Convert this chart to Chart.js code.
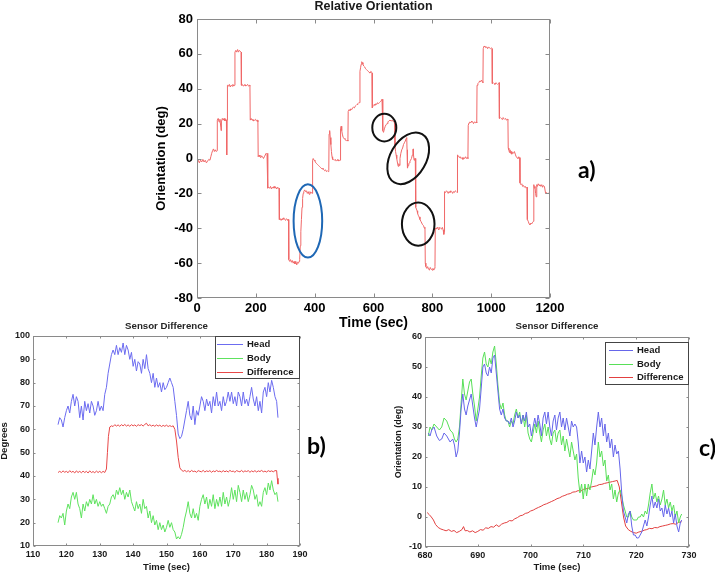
<!DOCTYPE html>
<html><head><meta charset="utf-8">
<script src="https://cdn.jsdelivr.net/npm/chart.js@4.4.1/dist/chart.umd.min.js"></script>
<style>
html,body{margin:0;padding:0;background:#fff;}
body{width:715px;height:572px;position:relative;overflow:hidden;}
canvas{position:absolute;}
.lab{position:absolute;font-family:Lato,"Open Sans",sans-serif;font-weight:700;font-size:23px;line-height:23px;color:#000;}
</style></head><body>
<canvas id="cb" width="320" height="254" style="left:0;top:318px;width:320px;height:254px"></canvas>
<canvas id="cc" width="321" height="254" style="left:394px;top:318px;width:321px;height:254px"></canvas>
<canvas id="ca" width="415" height="330" style="left:155px;top:0;width:415px;height:330px"></canvas>
<div class="lab" style="left:578px;top:158px">a)</div>
<div class="lab" style="left:307px;top:434px">b)</div>
<div class="lab" style="left:699px;top:436px">c)</div>
<script>
// ---------- a) Relative Orientation ----------
const a_time = [
 0,4,8,12,16,20,24,28,32,36,
 40,44,47,50,53,56,59,62,65,68,
 69,72,75,78,81,82,83,86,89,92,
 95,98,100,101,102,103,104,107,110,113,
 116,119,122,125,128,129,132,135,138,141,
 144,147,150,151,154,157,160,163,166,169,
 172,175,178,180,181,184,187,190,193,196,
 199,202,205,207,208,211,214,217,220,223,
 226,229,232,235,238,240,241,244,247,250,
 253,256,259,262,265,268,271,274,277,279,
 280,283,286,289,292,295,298,301,304,307,
 309,311,312,315,318,321,324,327,330,333,
 336,339,342,345,347,349,351,353,355,357,
 359,361,363,366,369,372,375,378,381,384,
 387,390,392,393,395,398,401,404,407,410,
 413,416,419,422,425,428,431,434,437,440,
 443,446,448,449,451,453,455,457,459,461,
 464,467,470,473,476,479,482,485,487,488,
 490,492,494,497,500,503,506,509,511,513,
 514,517,520,523,526,529,532,535,538,541,
 544,547,550,553,554,556,558,560,562,564,
 567,570,573,576,579,582,585,588,591,594,
 595,596,599,602,605,608,611,614,617,620,
 623,626,629,631,632,634,637,640,643,646,
 649,652,656,660,664,668,672,673,675,677,
 679,681,684,686,688,690,693,696,699,702,
 705,708,711,713,714,715,716,718,720,722,
 724,726,729,732,734,735,736,738,740,742,
 743,744,746,748,750,752,755,758,761,764,
 767,770,773,775,776,778,781,784,787,790,
 793,796,799,802,805,808,809,810,813,816,
 819,822,825,828,831,834,837,839,840,841,
 842,845,848,851,854,857,860,863,866,869,
 872,875,878,881,884,885,886,889,892,895,
 898,901,904,907,910,913,916,919,921,922,
 925,928,931,934,937,940,943,946,949,951,
 952,955,958,961,964,967,970,972,973,976,
 979,982,985,988,991,994,997,1000,1003,1004,
 1007,1010,1013,1016,1019,1022,1025,1027,1028,1031,
 1034,1037,1040,1043,1046,1049,1052,1055,1057,1058,
 1060,1062,1064,1066,1068,1070,1073,1076,1079,1082,
 1085,1088,1091,1094,1097,1098,1101,1104,1107,1110,
 1113,1116,1119,1122,1123,1126,1129,1132,1135,1138,
 1141,1144,1145,1147,1149,1151,1153,1155,1157,1160,
 1163,1166,1169,1172,1175,1178,1181,1183,1185,1188,
 1191,1194,1197,1200];
const a_deg = [
 -2,-1,-2.5,-1,-2,-0.5,-2,-1,-2.5,-1.5,
 -0.5,-1,1,3,4.5,5.5,4,5,4,4.5,
 22,23,21,22.5,18,16,21,23,22,23,
 21.5,22.5,22,2,22,22.5,42,41.5,42.5,41,
 42,41.5,42.5,41.5,42,61,62,61,62.5,61,
 62,61.5,61,42,42.5,41.5,42,42.5,41.5,42,
 42.5,41.5,42,41.5,22,23,22,22.5,21.5,22,
 22.5,21.5,22,21,1,2,1,0.5,1.5,1,
 0,1,2,3,2.5,3,-17,-16.5,-17,-16,
 -17.5,-16.5,-17,-16,-17,-16.5,-17.5,-16.5,-17,-17,
 -35,-34.5,-35.5,-34.5,-35,-34,-35,-35.5,-34.5,-35,
 -35.5,-35,-58,-59,-58,-59.5,-58.5,-60,-59,-60.5,
 -59,-61,-59.5,-60,-59,-58,-50,-42,-35,-28,
 -23,-20,-19,-18,-19,-18.5,-20,-19,-20.5,-19,
 -20,-19.5,-20,-1,0,-1,-1.5,-2.5,-3,-3.5,
 -4,-4.5,-5,-5.5,-6,-5.5,-6.5,-7,-6.5,-7.5,
 -7,-7.5,-7,14,16,12,8,4,1,-0.5,
 -0.5,-1,-0.5,-1.5,-1,-0.5,-1.5,-1,-1,17,
 18.5,16,14,12,11.5,11,10.5,10,10.5,10,
 27,28,27.5,28.5,28,29,29.5,29,30,30.5,
 31,31.5,32,32,50,52,54,55.5,55,54,
 53,52.5,51.5,51,50.5,50,49.5,49,50,49.5,
 49,29,30.5,31,30.5,31.5,31,32,31.5,32,
 32.5,33,34,33,16,15,17,18.5,19.5,20,
 21,21.5,22,21.5,22,21,20.5,7,4,2,
 0,-2,-4.5,-3,-4,0,3,5,6,8,
 9,10,11.5,12,5,-5,-5.5,-4,-3,-2.5,
 -1.5,-1,0,2,5,5.5,2,-1,0,0,
 -1,-28,-29,-30,-31.5,-32.5,-33.5,-35,-36,-37,
 -38,-38.5,-40,-39.5,-60,-62,-63,-62,-63.5,-64,
 -62.5,-63.5,-64,-63,-64,-63,-62,-40,-40.5,-39.5,
 -40,-41,-39.5,-40,-40.5,-39.5,-41,-43.5,-42,-40,
 -19,-19.5,-18.5,-19,-20,-19,-19.5,-18.5,-19,-20,
 -19,-19.5,-18.5,-19,-19.5,-19,2,1.5,0.5,1,
 0,0.5,-0.5,0.5,0,1,0,0.5,0,19,
 20.5,21,20.5,21.5,21,20,21,20.5,21,20.5,
 42,43,43.5,44.5,44,45,44,43.5,63,64.5,
 64,63.5,64,63,64,63.5,63,63.5,63,43,
 43.5,43,42.5,43.5,43,42.5,43,43.5,23,23.5,
 23,22.5,23.5,23,22.5,23,22,22.5,22,6,
 5,3.5,5,3,4,2.5,3.5,3,4,2.5,
 1,0.5,0,1,0.5,-14,-15,-14.5,-16,-15.5,
 -16.5,-16,-17,-16.5,-35,-36,-37.5,-38,-37,-37.5,
 -36.5,-36,-15,-17,-16,-20,-22,-15,-16,-14.5,
 -15.5,-15,-16,-15,-16.5,-15.5,-16,-16,-20,-19.5,
 -20,-20,-19.5,-20];
const a_xticks = [0, 1200, 200];
const a_yticks = [-80, 80, 20];
// annotation ellipses (centre time, centre deg, half-width sec, half-height deg, tilt deg)
const ring_t  = [377, 636.7, 718, 752];
const ring_v  = [-35.8, 17.7, 0.1, -37.6];
const ring_dt = [48.6, 40.8, 61, 55.4];
const ring_dv = [21, 7.9, 16, 12.4];
const ring_rot = [0, 0, 30, 0];
const ring_col = ['#1f68b5', '#111111', '#111111', '#111111'];

// ---------- b) Sensor Difference ----------
const b_time = [
 117.5,118,118.5,119,119.5,120,120.5,121,121.5,122,
 122.5,123,123.5,124,124.5,125,125.5,126,126.5,127,
 127.5,128,128.5,129,129.5,130,130.5,131,131.5,132,
 132.5,133,133.5,134,134.5,135,135.5,136,136.5,137,
 137.5,138,138.5,139,139.5,140,140.5,141,141.5,142,
 142.5,143,143.5,144,144.5,145,145.5,146,146.5,147,
 147.5,148,148.5,149,149.5,150,150.5,151,151.5,152,
 152.5,153,153.5,154,154.5,155,155.5,156,156.5,157,
 157.5,158,158.5,159,159.5,160,160.5,161,161.5,162,
 162.5,163,163.5,164,164.5,165,165.5,166,166.5,167,
 167.5,168,168.5,169,169.5,170,170.5,171,171.5,172,
 172.5,173,173.5,174,174.5,175,175.5,176,176.5,177,
 177.5,178,178.5,179,179.5,180,180.5,181,181.5,182,
 182.5,183,183.4];
const b_head = [
 62,65,64,61,65,68,70,67,72,75,
 70,74,72,65,70,64,72,68,71,67,
 72,70,66,68,72,68,70,68,75,78,
 84,88,92,94,92,96,92,95,93,97,
 92,96,94,90,93,87,90,85,89,88,
 84,90,86,92,86,84,80,84,78,82,
 78,80,76,80,77,78,80,82,80,78,
 72,66,58,56,57,60,64,68,72,66,
 64,70,62,68,66,70,74,72,68,73,
 70,72,67,74,70,76,70,72,68,74,
 70,72,76,72,76,71,74,70,76,74,
 70,76,71,73,70,74,78,73,70,74,
 68,72,67,76,78,74,80,76,81,78,
 74,72,65];
const b_body = [
 20,23,22,24,19,25,28,26,31,33,
 30,33,28,26,22,28,25,29,27,30,
 28,32,28,30,27,29,27,28,26,24,
 27,28,31,32,30,34,32,35,32,34,
 30,33,31,34,29,27,25,29,26,28,
 24,30,26,27,22,25,20,23,19,21,
 17,20,17,19,16,18,21,18,20,17,
 16,13,14,13,15,18,22,25,29,24,
 22,26,22,24,21,27,30,32,28,31,
 26,30,27,32,26,30,27,31,27,33,
 28,31,27,30,35,30,34,29,36,33,
 29,34,30,33,29,32,36,34,30,32,
 27,29,27,33,35,32,37,34,38,34,
 32,33,29];
const b_dtime = [
 117.5,118,118.5,119,119.5,120,120.5,121,121.5,122,
 122.5,123,123.5,124,124.5,125,125.5,126,126.5,127,
 127.5,128,128.5,129,129.5,130,130.5,131,131.5,132,
 132.3,132.6,133,133.5,134,134.5,135,135.5,136,136.5,
 137,137.5,138,138.5,139,139.5,140,140.5,141,141.5,
 142,142.5,143,143.5,144,144.5,145,145.5,146,146.5,
 147,147.5,148,148.5,149,149.5,150,150.5,151,151.5,
 152,152.5,153,153.5,154,154.5,155,155.5,156,156.5,
 157,157.5,158,158.5,159,159.5,160,160.5,161,161.5,
 162,162.5,163,163.5,164,164.5,165,165.5,166,166.5,
 167,167.5,168,168.5,169,169.5,170,170.5,171,171.5,
 172,172.5,173,173.5,174,174.5,175,175.5,176,176.5,
 177,177.5,178,178.5,179,179.5,180,180.5,181,181.5,
 182,182.5,183,183.2,183.4];
const b_diff = [
 41.5,42,41.5,42.2,41.6,42,41.4,42.3,41.6,42,
 41.3,42.2,41.5,42,41.4,42.1,41.5,42,41.3,42.2,
 41.5,41.9,41.4,42.1,41.5,42,41.4,42,41.5,43,
 50,57,61,61.5,61.2,62,61.4,61.9,61.3,62,
 61.5,62.1,61.4,61.9,61.3,62,61.5,61.9,61.3,62,
 61.6,62,61.4,62.1,62.6,61.5,62,61.4,61.8,61.3,
 61.9,61.4,61.8,61.2,61.7,61.3,61.8,61.2,61.6,61.2,
 61.5,60,55,48,43.5,42.5,42,42.4,41.8,42.3,
 41.7,42.4,41.9,42.1,41.6,42.3,42,41.8,42.4,41.7,
 42.2,41.9,42.3,41.6,42.2,41.8,42.4,41.9,42.1,41.7,
 42.3,41.8,42.2,41.7,42.4,41.9,42.1,41.6,42.3,42,
 41.8,42.4,41.7,42.2,41.9,42.3,41.6,42.2,41.8,42.3,
 41.7,42.2,41.9,42.4,41.8,42.1,41.7,42.3,41.9,42.2,
 41.8,42.3,42.3,39,36.5];
const b_xticks = [110, 190, 10];
const b_yticks = [10, 100, 10];

// ---------- c) Sensor Difference ----------
const c_time = [
 680.63,680.95,681.27,681.71,682.22,682.72,683.17,683.61,684.12,684.75,
 685.26,685.58,685.89,686.21,686.53,686.84,687.16,687.48,687.79,688.11,
 688.43,688.75,689.06,689.38,689.70,690.01,690.33,690.65,690.96,691.28,
 691.60,691.91,692.23,692.55,692.86,693.18,693.50,693.81,694.13,694.45,
 694.77,695.08,695.40,695.72,696.03,696.35,696.67,696.98,697.30,697.62,
 697.93,698.25,698.57,698.88,699.20,699.52,699.84,700.15,700.47,700.79,
 701.10,701.42,701.74,702.05,702.37,702.69,703.00,703.32,703.64,703.95,
 704.27,704.59,704.90,705.22,705.54,705.86,706.17,706.49,706.81,707.12,
 707.44,707.76,708.07,708.39,708.71,709.02,709.34,709.66,709.97,710.29,
 710.61,710.93,711.24,711.56,711.88,712.19,712.51,712.83,713.14,713.46,
 713.78,714.09,714.41,714.73,715.04,715.36,715.68,715.99,716.31,716.63,
 716.95,717.26,717.58,717.90,718.21,718.53,718.85,719.16,719.48,719.80,
 720.11,720.43,720.75,721.06,721.38,721.70,722.02,722.33,722.65,722.97,
 723.28,723.60,723.92,724.23,724.55,724.87,725.18,725.50,725.82,726.13,
 726.45,726.77,727.08,727.40,727.72,728.04,728.35,728.61];
const c_head = [
 28,27,29,30,27,25.5,26,28,27,25,
 26,24,20,22,28,36,41,36,34,37,
 39,41,37,33,30,33,36,43,50,51,
 48,47,50,48,53,54,48,42,36,34,
 36,33,32,32,31,33,30,32,35,33,
 34,31,34,32,35,30,31,27,30,33,
 30,34,31,27,33,35,31,35,30,27,
 32,34,29,33,35,30,33,29,33,30,
 27,32,30,31,30,25,18,22,18,20,
 15,19,16,22,28,24,30,35,30,33,
 27,31,25,28,23,26,20,24,21,22,
 16,8,2,0,-2,1,2,-3,-6,-6,
 -7,-7,-6,-5,-3,-1,-3,0,4,7,
 3,5,3,6,2,3,0,4,1,3,
 0,2,-2,1,-3,-5,-2,-1];
const c_body = [
 27,30,29,31,30,29,30,33,32,29,
 28,26,25,26,30,38,46,41,39,42,
 45,46,41,37,32,36,40,47,53,55,
 51,50,53,51,55,57,51,44,38,36,
 38,34,32,32,30,32,31,34,36,33,
 35,31,34,30,34,28,26,25,28,31,
 28,32,28,25,29,31,27,30,26,24,
 28,29,25,28,29,24,27,22,26,23,
 20,25,22,19,21,13,8,11,6,11,
 7,11,9,12,16,14,18,25,20,22,
 17,19,12,14,9,11,6,9,5,8,
 9,7,4,2,0,0,2,0,-1,-1,
 -1,0,0,1,0,2,1,4,8,11,
 6,8,5,7,4,6,9,4,6,3,
 5,2,4,0,2,-2,0,1];
const c_dtime = [
 680.4,680.8,681.2,681.6,682,682.5,683,683.5,684,684.5,
 685,685.5,686,686.5,687,687.3,687.6,688,688.5,689,
 689.5,690,690.5,691,691.5,692,692.5,693,693.5,694,
 694.5,695,695.5,696,696.5,697,697.5,698,698.5,699,
 699.5,700,700.5,701,701.5,702,702.5,703,703.5,704,
 704.5,705,705.5,706,706.5,707,707.5,708,708.5,709,
 709.5,710,710.5,711,711.5,712,712.5,713,713.5,714,
 714.5,715,715.5,716,716.4,716.8,717.2,717.6,718,718.5,
 719,719.5,720,720.5,721,721.5,722,722.5,723,723.5,
 724,724.5,725,725.5,726,726.5,727,727.5,728,728.6];
const c_diff = [
 1.5,0.8,0,-1,-2.5,-3.5,-4,-4.3,-4.6,-4.2,
 -4.8,-4.5,-5.2,-4.8,-4.2,-3.2,-4.6,-4.5,-5,-4.6,
 -5.2,-4.8,-4.2,-4.4,-3.6,-3.8,-3.2,-3.4,-2.6,-3.2,
 -2.4,-2,-1.8,-1.2,-1.3,-0.6,-0.2,0.4,0.6,1.2,
 1.4,2,2.3,2.8,3.2,3.6,4.1,4.4,4.8,5.2,
 5.6,6.1,6.4,6.9,7.2,7.6,7.8,8.3,8.4,8.8,
 8.6,9.2,9.4,9.6,10,10.2,10.4,10.8,10.9,11.2,
 11.4,11.6,11.8,12,12.2,10,5,0,-3,-4.2,
 -4.8,-5.2,-5.4,-5,-4.8,-4.4,-4.2,-3.8,-3.9,-3.5,
 -3.6,-3.2,-3,-2.8,-2.6,-2.3,-2.2,-2.4,-1.8,-1.6];
const c_xticks = [680, 730, 10];
const c_yticks = [-10, 60, 10];

const series_names = ['Head', 'Body', 'Difference'];
</script>
<script>
const FONT = "'Liberation Sans', Arial, Helvetica, sans-serif";
Chart.defaults.font.family = FONT;
Chart.defaults.color = '#000';

const pts = (xs, ys) => xs.map((t, i) => ({x: t, y: ys[i]}));

const framePlugin = {
  id: 'frame',
  afterDatasetsDraw(chart, args, o) {
    const {ctx, chartArea: a, scales: {x, y}} = chart;
    ctx.save();
    ctx.strokeStyle = o.color; ctx.lineWidth = 1;
    const L = Math.round(a.left) + 0.5, R = Math.round(a.right) - 0.5,
          T = Math.round(a.top) + 0.5, B = Math.round(a.bottom) - 0.5;
    ctx.strokeRect(L, T, R - L, B - T);
    ctx.beginPath();
    x.ticks.forEach(t => { const p = Math.round(x.getPixelForValue(t.value)) + 0.5;
      ctx.moveTo(p, B); ctx.lineTo(p, B - o.len); ctx.moveTo(p, T); ctx.lineTo(p, T + o.len); });
    y.ticks.forEach(t => { const p = Math.round(y.getPixelForValue(t.value)) + 0.5;
      ctx.moveTo(L, p); ctx.lineTo(L + o.len, p); ctx.moveTo(R, p); ctx.lineTo(R - o.len, p); });
    ctx.stroke();
    ctx.restore();
  }
};

const ringPlugin = {
  id: 'rings',
  afterDatasetsDraw(chart, args, o) {
    if (!o.on) return;
    const {ctx, scales: {x, y}} = chart;
    ctx.save();
    ctx.lineWidth = o.width;
    ring_t.forEach((t, i) => {
      const cx = x.getPixelForValue(t), cy = y.getPixelForValue(ring_v[i]);
      const rx = Math.abs(x.getPixelForValue(t + ring_dt[i]) - cx);
      const ry = Math.abs(y.getPixelForValue(ring_v[i] + ring_dv[i]) - cy);
      ctx.strokeStyle = ring_col[i];
      ctx.beginPath();
      ctx.ellipse(cx, cy, rx, ry, ring_rot[i] * Math.PI / 180, 0, Math.PI * 2);
      ctx.stroke();
    });
    ctx.restore();
  }
};

const boxLegend = {
  id: 'boxLegend',
  afterDraw(chart, args, o) {
    if (!o.on) return;
    const {ctx, chartArea: a} = chart;
    const x0 = Math.round(a.right - o.dx - o.w), y0 = Math.round(a.top + o.dy);
    ctx.save();
    ctx.fillStyle = '#fff'; ctx.fillRect(x0, y0, o.w, o.h);
    ctx.strokeStyle = o.border; ctx.lineWidth = 1;
    ctx.strokeRect(x0 + 0.5, y0 + 0.5, o.w, o.h);
    ctx.font = 'bold ' + o.size + 'px ' + FONT;
    ctx.textBaseline = 'middle'; ctx.textAlign = 'left';
    chart.data.datasets.forEach((d, i) => {
      const yy = y0 + o.first + i * o.step;
      ctx.strokeStyle = d.borderColor; ctx.lineWidth = 1;
      ctx.beginPath();
      ctx.moveTo(x0 + o.lx, Math.round(yy) + 0.5);
      ctx.lineTo(x0 + o.lx + o.ll, Math.round(yy) + 0.5);
      ctx.stroke();
      ctx.fillStyle = o.color;
      ctx.fillText(d.label, x0 + o.tx, yy + 0.5);
    });
    ctx.restore();
  }
};

function scale(tk, tickSize, tickPad, tickColor, titleText, titleSize, fixed, horizontal) {
  return {
    type: 'linear', min: tk[0], max: tk[1],
    grid: {display: false, drawTicks: false},
    border: {display: false},
    ticks: {stepSize: tk[2], autoSkip: false, maxRotation: 0, padding: tickPad,
            color: tickColor, font: {size: tickSize, weight: 'bold'},
            callback: v => String(v)},
    title: {display: true, text: titleText, color: tickColor,
            font: {size: titleSize, weight: 'bold', lineHeight: 1}, padding: 0},
    afterFit(s) { if (horizontal) s.height = fixed; else s.width = fixed; }
  };
}

function lineDs(label, data, color, width) {
  return {label, data, borderColor: color, backgroundColor: color, borderWidth: width,
          pointRadius: 0, tension: 0, fill: false};
}

// Chart a
new Chart(document.getElementById('ca'), {
  type: 'line',
  data: {datasets: [lineDs('Orientation', pts(a_time, a_deg), '#f06868', 1)]},
  options: {
    responsive: false, animation: false, events: [],
    layout: {padding: {left: 0, top: 0, right: 20, bottom: 0}},
    scales: {
      x: scale(a_xticks, 13, 3, '#000', 'Time (sec)', 14, 32, true),
      y: scale(a_yticks, 13, 4, '#000', 'Orientation (deg)', 13, 42, false)
    },
    plugins: {
      legend: {display: false}, tooltip: {enabled: false},
      title: {display: true, text: 'Relative Orientation', fullSize: false, color: '#1a1a1a',
              font: {size: 12.5, weight: 'bold', lineHeight: 0.8}, padding: {top: 2, bottom: 7}},
      frame: {color: '#8a8a8a', len: 4},
      rings: {on: true, width: 2},
      boxLegend: {on: false}
    }
  },
  plugins: [framePlugin, ringPlugin, boxLegend]
});

// Chart b
new Chart(document.getElementById('cb'), {
  type: 'line',
  data: {datasets: [
    lineDs(series_names[0], pts(b_time, b_head), '#6c6cf0', 1),
    lineDs(series_names[1], pts(b_time, b_body), '#5ee25e', 1),
    lineDs(series_names[2], pts(b_dtime, b_diff), '#e84848', 1)
  ]},
  options: {
    responsive: false, animation: false, events: [],
    layout: {padding: {left: 0, top: 0, right: 20, bottom: 0}},
    scales: {
      x: scale(b_xticks, 9, 3, '#1a1a1a', 'Time (sec)', 9.5, 26, true),
      y: scale(b_yticks, 9, 3, '#1a1a1a', 'Degrees', 9.5, 33, false)
    },
    plugins: {
      legend: {display: false}, tooltip: {enabled: false},
      title: {display: true, text: 'Sensor Difference', fullSize: false, color: '#262626',
              font: {size: 9.7, weight: 'bold', lineHeight: 1}, padding: {top: 3, bottom: 5.3}},
      frame: {color: '#8a8a8a', len: 2},
      rings: {on: false},
      boxLegend: {on: true, dx: 1, dy: 0, w: 84, h: 42, first: 8, step: 14, lx: 2, ll: 26, tx: 32,
                  size: 9.5, color: '#1a1a1a', border: '#444'}
    }
  },
  plugins: [framePlugin, ringPlugin, boxLegend]
});

// Chart c
new Chart(document.getElementById('cc'), {
  type: 'line',
  data: {datasets: [
    lineDs(series_names[0], pts(c_time, c_head), '#6666ea', 1),
    lineDs(series_names[1], pts(c_time, c_body), '#58df58', 1),
    lineDs(series_names[2], pts(c_dtime, c_diff), '#e24040', 1)
  ]},
  options: {
    responsive: false, animation: false, events: [],
    layout: {padding: {left: 0, top: 0, right: 26, bottom: 0}},
    scales: {
      x: scale(c_xticks, 9, 3, '#1a1a1a', 'Time (sec)', 9.5, 25, true),
      y: scale(c_yticks, 9, 3, '#1a1a1a', 'Orientation (deg)', 9, 31, false)
    },
    plugins: {
      legend: {display: false}, tooltip: {enabled: false},
      title: {display: true, text: 'Sensor Difference', fullSize: false, color: '#262626',
              font: {size: 9.7, weight: 'bold', lineHeight: 1}, padding: {top: 3, bottom: 6.3}},
      frame: {color: '#8a8a8a', len: 2},
      rings: {on: false},
      boxLegend: {on: true, dx: 1, dy: 5, w: 83, h: 42, first: 8, step: 13.5, lx: 4, ll: 24, tx: 32,
                  size: 9.5, color: '#1a1a1a', border: '#444'}
    }
  },
  plugins: [framePlugin, ringPlugin, boxLegend]
});
</script>
</body></html>
